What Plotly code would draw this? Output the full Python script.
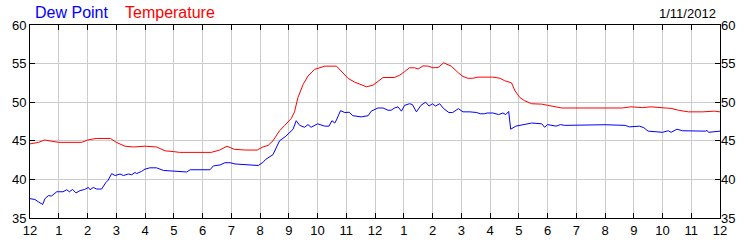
import plotly.graph_objects as go

temp_hours = [0.0, 0.3, 0.5, 0.7, 1.0, 1.8, 2.0, 2.3, 2.8, 3.0, 3.3, 3.6, 4.0, 4.4, 4.7, 5.0, 5.2, 6.3, 6.6, 6.85,
              7.1, 7.5, 7.9, 8.1, 8.28, 8.45, 8.68, 8.86, 9.09, 9.2, 9.32, 9.5, 9.67, 9.9, 10.25, 10.66, 10.83,
              11.06, 11.29, 11.5, 11.7, 11.93, 12.1, 12.28, 12.68, 12.86, 13.03, 13.2, 13.38, 13.5, 13.67, 13.85,
              14.02, 14.2, 14.39, 14.65, 14.9, 15.06, 15.23, 15.4, 15.58, 16.1, 16.35, 16.5, 16.75, 16.87, 17.04,
              17.2, 17.45, 17.8, 18.0, 18.5, 20.6, 20.9, 21.3, 21.6, 22.1, 22.3, 22.55, 22.9, 23.4, 23.6, 23.8, 24.0]
temperature = [44.6, 44.8, 45.1, 45.0, 44.8, 44.8, 45.1, 45.3, 45.3, 44.8, 44.3, 44.2, 44.3, 44.2, 43.7, 43.6, 43.5,
               43.5, 43.8, 44.3, 43.9, 43.8, 43.8, 44.2, 44.4, 45.0, 46.3, 47.0, 47.9, 48.75, 50.6, 52.3, 53.4,
               54.25, 54.67, 54.67, 53.96, 53.1, 52.6, 52.3, 52.0, 52.2, 52.7, 53.2, 53.2, 53.5, 53.96, 54.46,
               54.46, 54.3, 54.7, 54.67, 54.46, 54.5, 55.1, 54.67, 53.8, 53.33, 53.1, 53.1, 53.25, 53.25, 53.1,
               52.8, 52.5, 51.46, 50.6, 50.2, 49.8, 49.75, 49.6, 49.25, 49.25, 49.4, 49.3, 49.4, 49.25, 49.2,
               48.96, 48.75, 48.75, 48.84, 48.84, 48.75]

dew_hours = [0.0, 0.17, 0.29, 0.44, 0.52, 0.64, 0.75, 0.93, 1.15, 1.28, 1.37, 1.48, 1.6, 1.74, 1.9, 2.03, 2.09, 2.2,
             2.32, 2.49, 2.64, 2.72, 2.84, 2.96, 3.13, 3.25, 3.42, 3.54, 3.65, 3.71, 3.88, 4.0, 4.17, 4.4, 4.64,
             4.99, 5.45, 5.57, 6.26, 6.38, 6.61, 6.78, 6.96, 7.13, 7.42, 7.77, 7.94, 8.1, 8.2, 8.45, 8.68, 8.9,
             9.15, 9.26, 9.38, 9.55, 9.67, 9.78, 10.0, 10.25, 10.4, 10.5, 10.6, 10.66, 10.8, 10.95, 11.1, 11.23,
             11.52, 11.76, 11.87, 12.1, 12.28, 12.45, 12.56, 12.68, 12.8, 12.92, 13.03, 13.2, 13.3, 13.44, 13.6,
             13.76, 13.88, 14.0, 14.1, 14.25, 14.39, 14.57, 14.7, 14.9, 15.06, 15.3, 15.54, 15.66, 15.8, 15.9,
             16.1, 16.3, 16.45, 16.55, 16.65, 16.72, 16.9, 17.45, 17.8, 17.9, 18.0, 18.3, 18.45, 18.6, 20.0,
             20.7, 20.85, 21.2, 21.35, 21.5, 21.9, 22.0, 22.2, 22.3, 22.4, 22.5, 22.7, 23.0, 23.5, 23.55, 23.6, 24.0]
dew_point = [37.5, 37.4, 37.1, 36.75, 37.5, 37.9, 37.85, 38.4, 38.4, 38.66, 38.4, 38.7, 38.25, 38.55, 38.7, 38.96,
             38.66, 38.96, 38.75, 38.75, 39.6, 39.9, 40.75, 40.5, 40.7, 40.5, 40.7, 40.6, 40.9, 40.75, 41.04, 41.33,
             41.5, 41.5, 41.16, 41.04, 40.96, 41.25, 41.25, 41.75, 41.87, 42.16, 42.16, 42.0, 41.96, 41.87, 41.8,
             42.2, 42.6, 43.2, 45.0, 45.6, 46.5, 47.6, 47.0, 46.75, 47.1, 46.75, 47.2, 46.9, 46.9, 47.6, 47.3, 47.7,
             48.9, 48.66, 48.7, 48.25, 48.1, 48.25, 48.84, 49.25, 49.25, 48.96, 48.96, 49.25, 49.4, 48.84, 49.6,
             49.8, 49.7, 48.75, 49.6, 50.0, 49.5, 49.8, 49.5, 49.8, 49.16, 48.66, 48.66, 49.16, 48.75, 48.75,
             48.66, 48.5, 48.5, 48.6, 48.6, 48.4, 48.6, 48.4, 48.8, 46.5, 46.9, 47.3, 47.2, 46.75, 47.1, 46.9,
             47.1, 47.0, 47.08, 47.0, 46.8, 46.9, 46.7, 46.25, 46.2, 46.1, 46.3, 46.1, 46.3, 46.5, 46.3, 46.25,
             46.25, 46.35, 46.1, 46.25]

x_tickvals = list(range(25))
x_ticktext = ["12", "1", "2", "3", "4", "5", "6", "7", "8", "9", "10", "11",
              "12", "1", "2", "3", "4", "5", "6", "7", "8", "9", "10", "11", "12"]
y_tickvals = [35, 40, 45, 50, 55, 60]
date_label = "1/11/2012"

FONT = "Liberation Sans, Arial, sans-serif"

fig = go.Figure()
fig.add_trace(go.Scatter(x=dew_hours, y=dew_point, mode="lines", name="Dew Point",
                         line=dict(color="#0000ff", width=1), hoverinfo="skip"))
fig.add_trace(go.Scatter(x=temp_hours, y=temperature, mode="lines", name="Temperature",
                         line=dict(color="#ff0000", width=1), hoverinfo="skip"))

axis_common = dict(showline=True, linecolor="black", linewidth=1, ticks="inside", ticklen=5,
                   tickcolor="black", tickwidth=1, showgrid=True, gridcolor="#cccccc", gridwidth=1,
                   zeroline=False, tickfont=dict(family=FONT, size=13, color="#000000"))

fig.update_layout(
    width=750, height=250,
    margin=dict(l=30, r=30, t=25, b=25),
    paper_bgcolor="white", plot_bgcolor="white",
    showlegend=False,
    xaxis=dict(range=[0, 24], tickmode="array", tickvals=x_tickvals, ticktext=x_ticktext,
               mirror="ticks", **axis_common),
    yaxis=dict(range=[35, 60], tickmode="array", tickvals=y_tickvals, mirror="ticks", **axis_common),
    yaxis2=dict(range=[35, 60], tickmode="array", tickvals=y_tickvals, overlaying="y", side="right",
                showline=False, ticks="", showgrid=False, zeroline=False,
                tickfont=dict(family=FONT, size=13, color="#000000")),
    annotations=[
        dict(text="Dew Point", x=33, y=12, xref="paper", yref="paper", showarrow=False,
             font=dict(family=FONT, size=16, color="#0000ff"), xanchor="left", yanchor="middle"),
        dict(text="Temperature", x=123, y=12, xref="paper", yref="paper", showarrow=False,
             font=dict(family=FONT, size=16, color="#ff0000"), xanchor="left", yanchor="middle"),
        dict(text=date_label, x=718, y=13, xref="paper", yref="paper", showarrow=False,
             font=dict(family=FONT, size=13, color="#000000"), xanchor="right", yanchor="middle"),
    ],
)

# Convert pixel-positioned annotations to paper coordinates
pw, ph = 750 - 60, 250 - 50
for a in fig.layout.annotations:
    a.x = (a.x - 30) / pw
    a.y = 1 + (25 - a.y) / ph

# dummy trace to show the right axis
fig.add_trace(go.Scatter(x=[None], y=[None], yaxis="y2", showlegend=False, hoverinfo="skip"))

fig.write_html("out.html")
